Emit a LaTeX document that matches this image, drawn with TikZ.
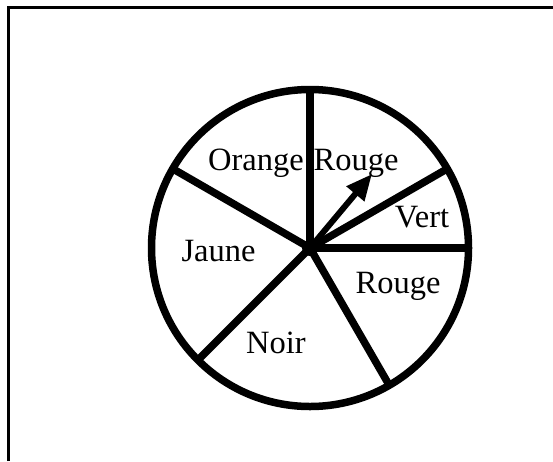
\documentclass[tikz,border=0pt]{standalone}
\usepackage{fontspec}
\setmainfont{Liberation Serif}
\usetikzlibrary{arrows.meta}
\begin{document}
\begin{tikzpicture}[x=1pt,y=-1pt,
  thick line/.style={line width=7.5pt},
  label text/.style={anchor=base, inner sep=0pt, font=\fontsize{32.5}{32.5}\selectfont}]
\useasboundingbox (0,0) rectangle (553,461);
% frame (only top and left visible)
\coordinate (fbl) at (8.5,461);
\coordinate (ftl) at (8.5,7);
\coordinate (ftr) at (553,7);
\draw[line width=3pt] (fbl) -- (ftl) -- (ftr);
% wheel
\coordinate (c) at (310,248);
\node[circle, draw, thick line, minimum size=317pt, inner sep=0pt, outer sep=0pt] (wheel) at (c) {};
\foreach \a in {90,150,30,0,-60,-135}{
  \draw[thick line] (c) -- (wheel.\a);
}
\node[circle, fill, minimum size=16pt, inner sep=0pt] (hub) at (c) {};
% pointer
\coordinate (tip) at (372,174);
\draw[line width=6pt, -{Triangle[length=26pt,width=22pt]}] (hub.center) -- (tip);
% labels
\node[label text] (orange) at (256,170.5) {Orange};
\node[label text] (rouge1) at (356,170.5) {Rouge};
\node[label text] (vert) at (422,227) {Vert};
\node[label text] (jaune) at (218.5,261.5) {Jaune};
\node[label text] (rouge2) at (398,293) {Rouge};
\node[label text] (noir) at (276,353) {Noir};
\end{tikzpicture}
\end{document}
